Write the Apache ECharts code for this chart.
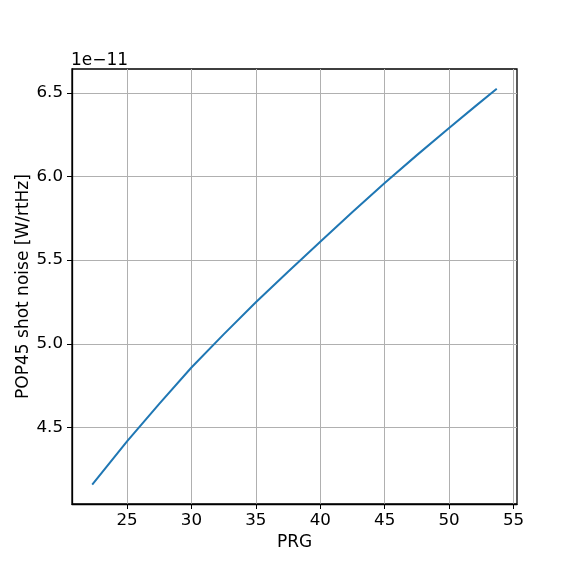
<!DOCTYPE html>
<html>
<head>
<meta charset="utf-8">
<script src="https://cdn.jsdelivr.net/npm/echarts@6/dist/echarts.min.js"></script>
<style>html,body{margin:0;padding:0;background:#fff}#c{width:576px;height:576px}</style>
</head>
<body>
<div id="c"></div>
<script>
// PRG values (x) and POP45 shot noise in units of 1e-11 W/rtHz (y)
const prg = [22.3, 25, 27.5, 30, 32.5, 35, 37.5, 40, 42.5, 45, 47.5, 50, 52, 53.7];
const shotNoise = [4.158, 4.416, 4.641, 4.858, 5.056, 5.248, 5.431, 5.61, 5.788, 5.962, 6.128, 6.29, 6.418, 6.525];
const xTicks = [25, 30, 35, 40, 45, 50, 55];
const yTicks = [4.5, 5.0, 5.5, 6.0, 6.5];
const offsetText = '1e\u221211';

const font = 'DejaVu Sans';
const chart = echarts.init(document.getElementById('c'), null, {renderer: 'canvas'});
chart.setOption({
  animation: false,
  backgroundColor: '#fff',
  grid: {left: 72, top: 69, right: 59, bottom: 72, show: true, borderColor: '#000', borderWidth: 1.3, containLabel: false},
  title: {text: offsetText, left: 71, top: 52, padding: 0, textStyle: {fontFamily: font, fontSize: 17, fontWeight: 'normal', color: '#000'}},
  xAxis: {
    type: 'value', min: 20.73, max: 55.27,
    name: 'PRG', nameLocation: 'middle', nameGap: 30,
    nameTextStyle: {fontFamily: font, fontSize: 17, color: '#000'},
    axisLine: {show: true, lineStyle: {color: '#000', width: 1.3}},
    axisTick: {show: true, customValues: xTicks, length: 5, lineStyle: {color: '#000', width: 1}},
    axisLabel: {customValues: xTicks, fontFamily: font, fontSize: 16.7, color: '#000', margin: 8},
    splitLine: {show: true, lineStyle: {color: '#b0b0b0', width: 1}}
  },
  yAxis: {
    type: 'value', min: 4.042, max: 6.643,
    name: 'POP45 shot noise [W/rtHz]', nameLocation: 'middle', nameGap: 40, nameRotate: 90,
    nameMoveOverlap: false,
    nameTextStyle: {fontFamily: font, fontSize: 17, color: '#000'},
    axisLine: {show: true, lineStyle: {color: '#000', width: 1.3}},
    axisTick: {show: true, customValues: yTicks, length: 5, lineStyle: {color: '#000', width: 1}},
    axisLabel: {customValues: yTicks, fontFamily: font, fontSize: 16.7, color: '#000', margin: 9,
      formatter: v => v.toFixed(1)},
    splitLine: {show: true, lineStyle: {color: '#b0b0b0', width: 1}}
  },
  series: [{
    type: 'line', data: prg.map((x, i) => [x, shotNoise[i]]),
    showSymbol: false, smooth: false, lineStyle: {color: '#1f77b4', width: 2}
  }]
});
</script>
</body>
</html>
